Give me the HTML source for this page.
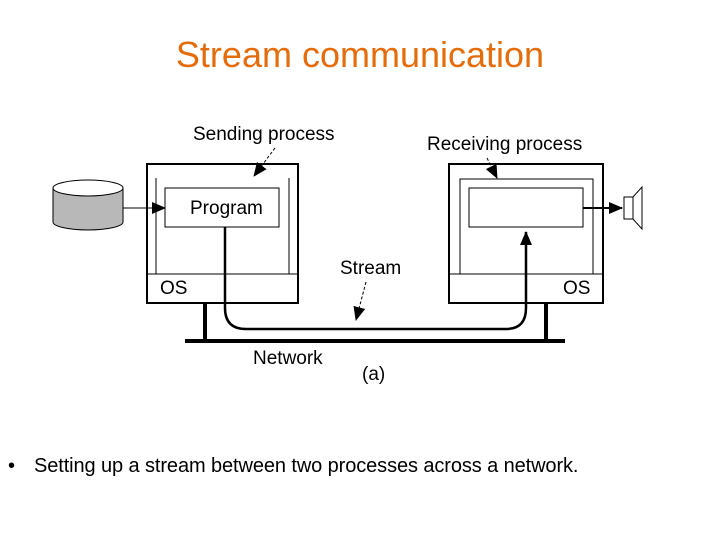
<!DOCTYPE html>
<html><head><style>
body{margin:0;width:720px;height:540px;background:#fff;overflow:hidden;font-family:"Liberation Sans",sans-serif}
.t{position:absolute;white-space:nowrap}
</style></head><body>
<div class="t" style="left:0;width:720px;text-align:center;top:34px;font-size:36px;color:#E46C0A">Stream communication</div>
<svg width="720" height="540" style="position:absolute;left:0;top:0" font-family="Liberation Sans, sans-serif">
<defs><marker id="b" markerWidth="14" markerHeight="12" refX="13" refY="6" orient="auto" markerUnits="userSpaceOnUse"><path d="M0,0L14,6L0,12z" fill="#000"/></marker></defs>
<g fill="none" stroke="#000">
<rect x="147" y="164" width="151" height="139" stroke-width="2"/>
<line x1="147" y1="274" x2="298" y2="274"/>
<line x1="156" y1="178" x2="156" y2="274"/><line x1="289" y1="178" x2="289" y2="274"/>
<rect x="165" y="188" width="114" height="39"/>
<rect x="449" y="164" width="154" height="139" stroke-width="2"/>
<line x1="449" y1="274" x2="603" y2="274"/>
<polyline points="460,274 460,179 593,179 593,274"/>
<rect x="469" y="188" width="114" height="39"/>
<line x1="185" y1="341" x2="565" y2="341" stroke-width="4"/>
<line x1="205" y1="303" x2="205" y2="341" stroke-width="4"/>
<line x1="546" y1="303" x2="546" y2="341" stroke-width="4"/>
<path d="M225,227V308Q225,329 246,329H506Q526,329 526,308V232" stroke-width="2.5" marker-end="url(#b)"/>
<line x1="123" y1="208" x2="165" y2="208" marker-end="url(#b)"/>
<line x1="583" y1="208" x2="622" y2="208" stroke-width="2" marker-end="url(#b)"/>
<path d="M53,188V222A35,8 0 0 0 123,222V188" fill="#b8b8b8"/>
<ellipse cx="88" cy="188" rx="35" ry="8" fill="#fff"/>
<rect x="624" y="197" width="9" height="22"/>
<path d="M633,197L642,187V229L633,219"/>
<line x1="275" y1="148" x2="254" y2="176" stroke-dasharray="3,2" marker-end="url(#b)"/>
<line x1="487" y1="158" x2="497" y2="178" stroke-dasharray="3,2" marker-end="url(#b)"/>
<line x1="366" y1="282" x2="356" y2="320" stroke-dasharray="3,2" marker-end="url(#b)"/>
</g>
<g font-size="19" fill="#000">
<text x="193" y="140">Sending process</text>
<text x="427" y="150">Receiving process</text>
<text x="190" y="214">Program</text>
<text x="340" y="274">Stream</text>
<text x="160" y="294">OS</text>
<text x="563" y="294">OS</text>
<text x="253" y="364">Network</text>
<text x="362" y="380">(a)</text>
</g>
</svg>
<div class="t" style="left:8px;top:455px;font-size:20px">•</div>
<div class="t" style="left:34px;top:455px;font-size:20px;letter-spacing:-0.1px">Setting up a stream between two processes across a network.</div>
</body></html>
